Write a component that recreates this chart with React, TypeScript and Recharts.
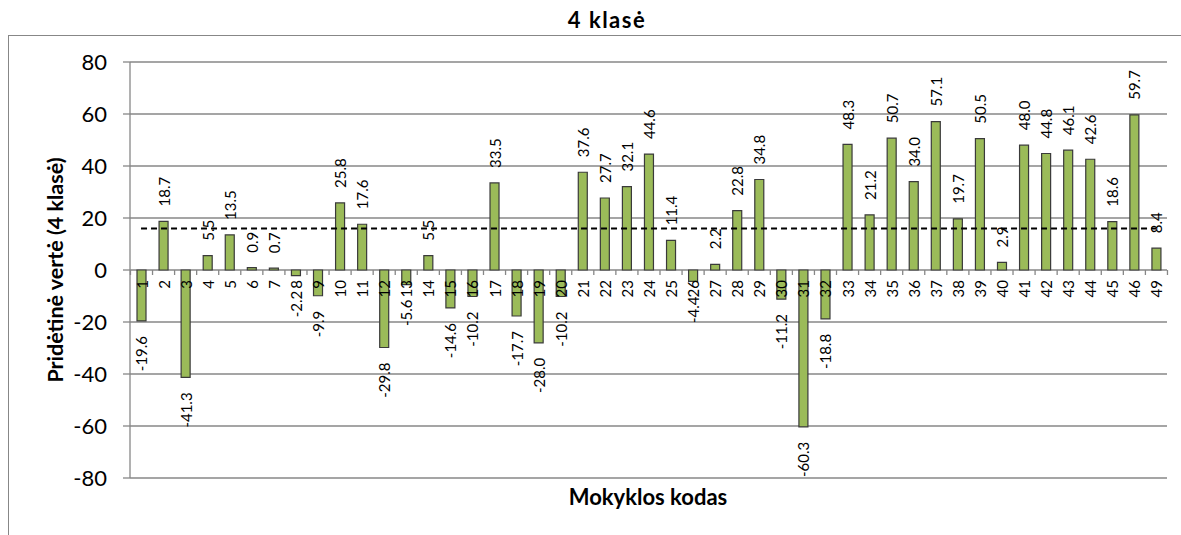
import React from 'react';
import { ComposedChart, Bar, XAxis, YAxis, CartesianGrid, ReferenceLine, LabelList } from 'recharts';

// school codes and value-added scores (4 klasė)
const codes = [
  '1', '2', '3', '4', '5', '6', '7', '8', '9', '10',
  '11', '12', '13', '14', '15', '16', '17', '18', '19', '20',
  '21', '22', '23', '24', '25', '26', '27', '28', '29', '30',
  '31', '32', '33', '34', '35', '36', '37', '38', '39', '40',
  '41', '42', '43', '44', '45', '46', '49',
];
const values = [
  -19.6, 18.7, -41.3, 5.5, 13.5, 0.9, 0.7, -2.2, -9.9, 25.8,
  17.6, -29.8, -5.6, 5.5, -14.6, -10.2, 33.5, -17.7, -28.0, -10.2,
  37.6, 27.7, 32.1, 44.6, 11.4, -4.4, 2.2, 22.8, 34.8, -11.2,
  -60.3, -18.8, 48.3, 21.2, 50.7, 34.0, 57.1, 19.7, 50.5, 2.9,
  48.0, 44.8, 46.1, 42.6, 18.6, 59.7, 8.4,
];
const average = 16;
const yTicks = [-80, -60, -40, -20, 0, 20, 40, 60, 80];

const data = codes.map((code, i) => ({ code, value: values[i] }));

const W = 1181;
const H = 535;
const MARGIN = { top: 62, right: 14, bottom: 57, left: 0 };
const Y_AXIS_W = 130;
const BAND = (W - MARGIN.left - MARGIN.right - Y_AXIS_W) / codes.length;
const FONT = 'Lato, "Open Sans", sans-serif';
const GRID = '#878787';

const getBox = (props: any) => {
  const vb = props.viewBox || props;
  const x = Number(vb.x);
  const y = Number(vb.y);
  const w = Number(vb.width);
  const h = Number(vb.height);
  return { cx: x + w / 2, top: Math.min(y, y + h), bottom: Math.max(y, y + h) };
};

// value label, rotated, just past the end of the bar
const ValueLabel = (props: any) => {
  const { index } = props;
  const v = values[index];
  const { cx, top, bottom } = getBox(props);
  const pos = v >= 0;
  const ly = pos ? top - 15 : bottom + 15;
  return (
    <text
      x={cx}
      y={ly}
      transform={`rotate(-90, ${cx}, ${ly})`}
      textAnchor={pos ? 'start' : 'end'}
      dominantBaseline="central"
      fontSize={15}
      fontFamily={FONT}
      fill="#000"
    >
      {v.toFixed(1)}
    </text>
  );
};

// category label + tick marks on the zero line
const CodeLabel = (props: any) => {
  const { index } = props;
  const v = values[index];
  const { cx, top, bottom } = getBox(props);
  const base = v >= 0 ? bottom : top;
  const ly = base + 10;
  return (
    <g>
      <line x1={cx - BAND / 2} x2={cx - BAND / 2} y1={base} y2={base + 5} stroke={GRID} strokeWidth={1.3} />
      {index === codes.length - 1 && (
        <line x1={cx + BAND / 2} x2={cx + BAND / 2} y1={base} y2={base + 5} stroke={GRID} strokeWidth={1.3} />
      )}
      <text
        x={cx}
        y={ly}
        transform={`rotate(-90, ${cx}, ${ly})`}
        textAnchor="end"
        dominantBaseline="central"
        fontSize={15}
        fontFamily={FONT}
        fill="#000"
      >
        {codes[index]}
      </text>
    </g>
  );
};

export default function App() {
  return (
    <div style={{ position: 'absolute', left: 0, top: 0, width: W, height: H, background: '#fff', overflow: 'hidden', fontFamily: FONT }}>
      {/* chart frame, runs off the right and bottom */}
      <div style={{ position: 'absolute', left: 8, top: 35, width: 1300, height: 600, borderTop: `1px solid ${GRID}`, borderLeft: `1px solid ${GRID}` }} />
      <div style={{ position: 'absolute', left: 507, width: 200, top: 7, textAlign: 'center', fontWeight: 700, fontSize: 22, lineHeight: '26px', letterSpacing: 1.5 }}>
        4 klasė
      </div>
      <div style={{ position: 'absolute', left: 498, width: 300, top: 483, textAlign: 'center', fontWeight: 700, fontSize: 22, lineHeight: '28px' }}>
        Mokyklos kodas
      </div>
      <div
        style={{
          position: 'absolute', left: 55 - 150, top: 270 - 14, width: 300, textAlign: 'center',
          fontWeight: 700, fontSize: 21.5, lineHeight: '28px', transform: 'rotate(-90deg)',
        }}
      >
        Pridėtinė vertė (4 klasė)
      </div>
      <div style={{ position: 'absolute', left: 0, top: 0 }}>
        <ComposedChart width={W} height={H} data={data} margin={MARGIN}>
          <CartesianGrid vertical={false} stroke={GRID} strokeWidth={1.3} />
          <XAxis dataKey="code" type="category" hide />
          <YAxis
            domain={[-80, 80]}
            ticks={yTicks}
            width={Y_AXIS_W}
            tickSize={7}
            tickMargin={16}
            stroke={GRID}
            tick={{ fontSize: 22, fill: '#000', fontFamily: FONT }}
            axisLine={{ stroke: GRID, strokeWidth: 1.3 }}
            tickLine={{ stroke: GRID, strokeWidth: 1.3 }}
            interval={0}
          />
          <Bar dataKey="value" fill="#9BBB59" stroke="#3a3a3a" strokeWidth={1.2} barSize={9} isAnimationActive={false}>
            <LabelList dataKey="code" content={CodeLabel} />
            <LabelList dataKey="value" content={ValueLabel} />
          </Bar>
          <ReferenceLine
            segment={[{ x: codes[0], y: average }, { x: codes[codes.length - 1], y: average }]}
            stroke="#000"
            strokeWidth={2}
            strokeDasharray="6 4"
          />
        </ComposedChart>
      </div>
    </div>
  );
}
